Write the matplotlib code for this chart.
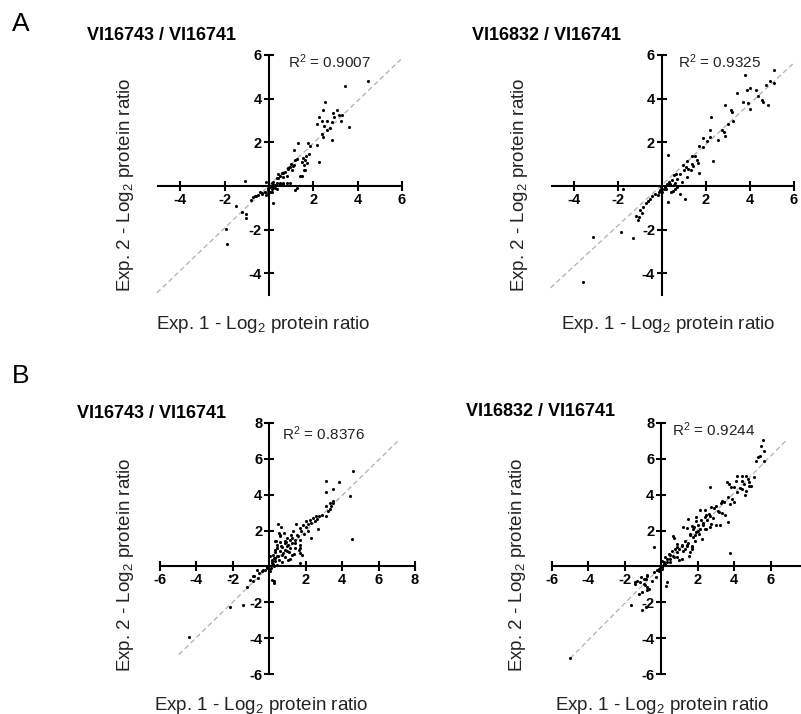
import numpy as np
import matplotlib
matplotlib.use("Agg")
import matplotlib.pyplot as plt

plt.rcParams['font.family'] = ['Liberation Sans', 'DejaVu Sans']
plt.rcParams['mathtext.fontset'] = 'custom'
plt.rcParams['mathtext.rm'] = 'Liberation Sans'
plt.rcParams['mathtext.it'] = 'Liberation Sans:italic'
plt.rcParams['mathtext.bf'] = 'Liberation Sans:bold'

W, H = 801, 714

# --- data ---
titles = ["VI16743 / VI16741", "VI16832 / VI16741", "VI16743 / VI16741", "VI16832 / VI16741"]
r2_values = ["0.9007", "0.9325", "0.8376", "0.9244"]
# regression lines: slope, intercept, x start, x end
fit_lines = [(0.973, 0.01, -5.05, 5.95), (0.932, 0.05, -5.07, 5.94),
             (0.99, 0.0, -4.96, 7.04), (1.025, 0.0, -5.0, 6.88)]

a1_points = [
    (4.48, 4.83), (3.42, 4.58), (2.52, 3.85), (2.45, 3.47), (3.08, 3.48), (2.89, 3.36), (2.24, 3.17),
    (3.15, 3.26), (3.30, 3.26), (2.92, 3.14), (2.39, 2.98), (2.62, 2.98), (3.23, 2.98), (2.85, 2.94),
    (2.17, 2.86), (2.5, 2.76), (2.77, 2.65), (3.61, 2.71), (2.62, 2.56), (2.39, 2.38), (2.44, 2.23),
    (2.85, 2.1), (1.76, 1.95), (1.33, 1.95), (1.86, 1.85), (1.11, 1.65), (2.17, 1.89), (1.79, 1.47),
    (1.68, 1.39), (1.53, 1.29), (1.26, 1.24), (1.18, 1.17), (1.64, 1.17), (1.48, 1.09), (2.24, 1.09),
    (0.98, 1.02), (1.08, 0.89), (0.88, 0.79), (1.56, 0.94), (1.64, 0.74), (0.73, 0.64), (1.03, 0.71),
    (0.42, 0.56), (0.58, 0.59), (1.41, 0.45), (0.80, 0.44), (0.65, 0.41), (0.35, 0.38), (-0.14, 0.18),
    (-1.09, 0.21), (0.5, 0.11), (0.65, 0.08), (0.27, 0.03), (0.2, -0.05), (0.12, -0.12), (0.35, -0.12),
    (1.26, -0.09), (1.18, -0.17), (-0.03, -0.2), (0.05, -0.27), (-0.18, -0.27), (-0.41, -0.27),
    (-0.29, -0.38), (-0.11, -0.42), (-0.56, -0.47), (-0.71, -0.5), (0.17, -0.8), (-1.47, -0.91),
    (-1.2, -1.18), (-1.02, -1.29), (-1.05, -1.48), (-1.95, -1.97), (-1.89, -2.67),
    (0.88, 0.8), (0.95, 0.88), (1.11, 0.95), (0.65, 0.58), (0.5, 0.45), (0.42, 0.35), (0.2, 0.2),
    (0.12, 0.12), (0.05, -0.03), (-0.03, -0.11), (0.2, 0.05), (0.35, 0.12), (0.5, 0.12), (0.65, 0.15),
    (0.27, -0.11), (0.12, -0.26), (-0.03, -0.33), (-0.18, -0.26), (-0.33, -0.33), (-0.48, -0.41),
    (-0.64, -0.48), (-0.79, -0.64), (0.8, 0.12), (0.95, 0.15), (1.48, 0.45), (1.56, 0.73), (1.71, 1.03),
]

a2_points = [
    (5.11, 5.29), (3.79, 5.08), (4.92, 4.83), (5.11, 4.73), (4.02, 4.5), (3.86, 4.38), (4.71, 4.62),
    (4.29, 4.38), (3.41, 4.24), (3.68, 3.86), (3.92, 3.82), (4.54, 3.92), (4.59, 3.86), (4.36, 4.12),
    (4.81, 3.71), (4.02, 3.52), (2.86, 3.71), (3.13, 3.48), (3.16, 3.41), (2.23, 3.17), (3.23, 2.98),
    (3.01, 2.83), (2.18, 2.58), (2.74, 2.56), (2.81, 2.45), (2.86, 2.3), (2.56, 2.11), (2.18, 2.23),
    (1.88, 2.2), (2.03, 2.08), (1.7, 1.85), (1.85, 1.77), (0.26, 1.42), (1.35, 1.39), (1.5, 1.39),
    (1.13, 1.12), (1.58, 1.17), (1.35, 1.02), (1.43, 0.89), (1.65, 1.05), (1.2, 0.79), (0.98, 0.71),
    (2.3, 1.12), (1.7, 0.59), (0.83, 0.56), (0.53, 0.48), (1.13, 0.41), (0.68, 0.33), (0.45, 0.29),
    (0.3, 0.18), (0.6, 0.14), (0.23, 0.08), (0.38, 0.03), (0.15, -0.05), (0.08, -0.12), (-0.08, -0.2),
    (0.0, -0.27), (-0.15, -0.27), (0.5, -0.23), (0.8, -0.35), (1.05, -0.62), (0.29, -0.73),
    (-1.76, -0.15), (-0.3, -0.38), (-0.53, -0.58), (-0.75, -0.77), (-0.86, -0.95), (-0.98, -1.11),
    (-0.9, -1.26), (-1.05, -1.41), (-1.2, -1.38), (-1.08, -1.56), (-1.88, -2.09), (-1.32, -2.39),
    (-3.13, -2.36), (-3.61, -4.39),
    (0.35, 0.1), (0.55, 0.05), (0.7, -0.05), (0.9, 0.2), (0.6, -0.15), (0.42, -0.3), (0.2, -0.15),
    (-0.05, -0.05), (0.65, 0.55), (0.95, 0.95), (1.1, 0.85), (-0.2, -0.4), (-0.45, -0.45),
    (-0.65, -0.7), (1.3, 0.75),
]

b1_points = [
    (4.62, 5.34), (3.13, 4.79), (3.82, 4.71), (3.49, 4.34), (3.13, 4.17), (4.44, 3.95), (3.49, 3.63),
    (3.31, 3.54), (3.4, 3.35), (3.09, 3.35), (3.22, 3.07), (3.09, 2.79), (2.58, 2.83), (2.4, 2.7),
    (2.22, 2.61), (2.04, 2.51), (2.31, 2.42), (2.67, 2.09), (1.85, 2.33), (1.67, 2.14), (2.31, 1.58),
    (4.55, 1.55), (1.49, 2.38), (0.49, 2.38), (0.62, 2.2), (0.58, 1.73), (1.31, 1.96), (1.58, 1.68),
    (1.4, 1.49), (1.22, 1.3), (1.04, 1.21), (0.85, 1.3), (0.67, 1.12), (0.4, 1.02), (0.31, 1.4),
    (0.95, 0.84), (0.76, 0.74), (1.22, 0.65), (1.67, 0.74), (1.67, 1.02), (0.49, 0.56), (1.04, 0.37),
    (0.31, 0.47), (0.13, 0.28), (0.22, 0.15), (-0.05, 0.0), (-0.15, -0.09), (-0.33, -0.19),
    (0.04, -0.24), (-0.69, -0.19), (-0.91, -0.52), (-1.05, -0.74), (-0.87, -0.84), (-1.24, -1.12),
    (-0.6, -0.65), (0.13, -0.74), (0.27, -0.93), (-1.45, -2.16), (-2.18, -2.29), (-4.42, -3.91),
    (-2.15, -0.56),
    (0.51, 1.86), (0.6, 1.68), (0.38, 1.4), (0.6, 1.34), (0.88, 1.4), (1.15, 1.45), (1.43, 1.3),
    (1.67, 1.21), (0.97, 1.15), (0.7, 1.08), (0.42, 1.02), (1.15, 1.02), (1.43, 1.02), (0.88, 0.89),
    (0.57, 0.84), (0.33, 0.78), (1.06, 0.78), (1.34, 0.71), (0.7, 0.65), (0.42, 0.6), (0.24, 0.47),
    (0.88, 0.52), (0.51, 0.37), (1.15, 0.41), (0.33, 0.28), (0.15, 0.19), (0.7, 0.22), (0.42, 0.09),
    (0.24, 0.0), (0.09, -0.09), (-0.04, -0.15), (-0.13, -0.04), (-0.22, -0.19), (-0.4, -0.28),
    (-0.59, -0.34), (-0.86, -0.56), (0.24, -0.84), (1.7, 0.19), (1.8, 0.65), (1.61, 0.93),
    (1.25, 1.58), (1.52, 1.77), (1.7, 1.49), (0.15, 0.37), (0.05, 0.56),
    (2.0, 2.2), (2.5, 2.55), (2.75, 2.8), (2.9, 2.85), (1.9, 1.8), (2.15, 2.35), (2.6, 2.65),
    (3.35, 3.2), (3.5, 3.55), (1.75, 1.95), (2.1, 2.0), (1.2, 1.75), (1.0, 1.6), (0.8, 1.85),
    (0.45, 1.2), (0.3, 0.9), (0.2, 0.65), (0.9, 1.35),
]

b2_points = [
    (5.59, 7.06), (5.48, 6.69), (5.64, 6.46), (5.44, 6.18), (5.32, 6.13), (5.21, 5.9), (5.62, 5.9),
    (4.18, 5.07), (4.41, 5.07), (4.67, 5.07), (5.08, 5.01), (4.77, 4.88), (4.45, 4.75), (4.09, 4.75),
    (4.54, 4.6), (4.81, 4.51), (4.95, 4.51), (3.73, 4.6), (3.59, 4.73), (3.82, 4.41), (4.0, 4.41),
    (4.45, 4.32), (4.63, 4.23), (4.18, 4.13), (4.59, 4.0), (2.65, 4.41), (3.69, 3.89), (3.87, 3.76),
    (4.0, 3.58), (3.78, 3.48), (3.33, 3.67), (3.28, 3.52), (2.74, 3.33), (2.92, 3.26), (2.38, 3.15),
    (2.14, 3.15), (3.19, 3.02), (3.33, 2.96), (3.51, 2.89), (2.65, 2.83), (2.47, 2.89), (2.38, 2.74),
    (1.93, 2.74), (2.2, 2.59), (1.93, 2.55), (1.48, 2.64), (2.02, 2.33), (2.29, 2.33), (2.74, 2.36),
    (3.01, 2.33), (3.23, 2.33), (3.69, 2.46), (1.66, 2.27), (1.17, 2.22), (1.39, 2.14), (1.75, 2.09),
    (2.11, 2.09), (2.47, 2.09), (1.93, 1.9), (1.57, 1.81), (1.75, 1.62), (1.3, 1.43), (1.48, 1.28),
    (1.66, 1.15), (1.39, 1.15), (1.12, 1.15), (0.85, 1.25), (0.67, 1.68), (0.85, 1.06), (1.21, 0.88),
    (1.66, 0.97), (0.58, 0.88), (0.4, 0.69), (0.67, 0.6), (0.85, 0.5), (1.12, 0.41), (0.49, 0.41),
    (0.22, 0.5), (0.04, 0.32), (0.13, 0.13), (0.31, 0.22), (-0.05, -0.06), (0.04, -0.15),
    (-0.14, -0.24), (0.31, -0.89), (0.27, -1.08), (-0.38, 1.1), (-0.27, -0.61), (-0.5, -0.8),
    (-0.77, -0.52), (-0.86, -0.71), (-0.95, -0.99), (-1.14, -0.61), (-1.32, -0.84), (-0.81, -1.14),
    (-0.77, -1.32), (-1.21, -1.51), (-1.46, -0.89), (-1.64, -2.14), (-1.05, -2.42), (-0.86, -2.29),
    (-5.0, -5.12), (3.78, 0.73),
    (0.68, 1.58), (1.13, 1.21), (1.41, 1.17), (1.68, 1.08), (1.32, 0.95), (0.86, 0.8), (0.49, 0.61),
    (0.68, 0.52), (0.31, 0.43), (0.13, 0.24), (0.22, 0.15), (0.04, -0.04), (0.49, 0.24), (0.95, 0.34),
    (1.5, 0.58), (1.59, 0.8), (2.23, 1.55), (1.86, 1.4), (2.05, 1.82), (2.41, 2.07), (2.68, 2.2),
    (1.77, 2.2), (-0.79, -0.5), (-0.97, -0.69), (-1.15, -0.88), (-0.88, -1.06), (-1.42, -0.97),
    (-0.69, -1.25), (-1.06, -1.43), (-0.42, -0.32), (-0.24, -0.22), (-0.15, -0.13),
    (2.5, 2.6), (2.85, 2.7), (3.1, 3.1), (3.45, 3.6), (2.3, 2.45), (1.6, 1.75), (2.0, 2.0),
    (2.6, 2.95), (3.0, 3.35), (4.3, 4.4), (4.8, 4.7), (1.0, 0.95), (0.75, 0.95), (1.85, 1.75),
]

ticks_a = [-4, -2, 2, 4, 6]
ticks_b = [-6, -4, -2, 2, 4, 6, 8]
ticks_b_x_right = [-6, -4, -2, 2, 4, 6]   # last panel is cut at the right edge


def fig_xy(px, py):
    return px / W, 1 - py / H


def make_axes(fig, px_left, px_right, py_top, py_bottom):
    l, b = fig_xy(px_left, py_bottom)
    return fig.add_axes([l, b, (px_right - px_left) / W, (py_bottom - py_top) / H])


def draw_panel(ax, points, lims, xticks, yticks, line):
    xs = [p[0] for p in points]
    ys = [p[1] for p in points]
    slope, icpt, x0, x1 = line
    lx = np.array([x0, x1])
    ax.plot(lx, slope * lx + icpt, color='#b0b0b0', lw=0.9, dashes=(4, 2.5), zorder=1, clip_on=False)
    ax.scatter(xs, ys, s=5, color='black', linewidths=0, zorder=3)

    ax.set_xlim(lims[0], lims[1])
    ax.set_ylim(lims[0], lims[1])
    for side in ['top', 'right']:
        ax.spines[side].set_visible(False)
    for side in ['left', 'bottom']:
        ax.spines[side].set_position(('data', 0))
        ax.spines[side].set_linewidth(1.5)
    ax.set_xticks(xticks)
    ax.set_yticks(yticks)
    ax.set_xticklabels([str(t) for t in xticks], fontweight='bold', fontsize=10.5)
    ax.set_yticklabels([str(t) for t in yticks], fontweight='bold', fontsize=10.5)
    ax.tick_params(direction='inout', length=7, width=1.5, pad=1.5)
    ax.patch.set_visible(False)


def main():
    fig = plt.figure(figsize=(W / 100, H / 100), dpi=100)

    ax1 = make_axes(fig, 158, 402, 55, 295)
    ax2 = make_axes(fig, 552, 794, 55, 295)
    ax3 = make_axes(fig, 160, 415, 423, 674)
    ax4 = make_axes(fig, 552, 807, 423, 674)

    draw_panel(ax1, a1_points, (-5, 6), ticks_a, ticks_a, fit_lines[0])
    draw_panel(ax2, a2_points, (-5, 6), ticks_a, ticks_a, fit_lines[1])
    draw_panel(ax3, b1_points, (-6, 8), ticks_b, ticks_b, fit_lines[2])
    draw_panel(ax4, b2_points, (-6, 8), ticks_b_x_right, ticks_b, fit_lines[3])

    # panel letters
    fig.text(*fig_xy(12, 24), "A", fontsize=19, va='center', ha='left')
    fig.text(*fig_xy(12, 376), "B", fontsize=19, va='center', ha='left')

    # titles
    title_pos = [(87, 35), (472, 35), (77, 413), (466, 412)]
    for (px, py), t in zip(title_pos, titles):
        fig.text(*fig_xy(px, py), t, fontsize=13, fontweight='bold', va='center', ha='left')

    # R^2 annotations
    r2_pos = [(288, 62), (678, 62), (282, 434), (672, 430)]
    for (px, py), r in zip(r2_pos, r2_values):
        fig.text(*fig_xy(px, py), "R$^2$ = " + r, fontsize=11, va='center', ha='left', color='#222222')

    ylab = "Exp. 2 - Log$_2$ protein ratio"
    xlab = "Exp. 1 - Log$_2$ protein ratio"
    for px, py in [(125, 185), (519, 185), (125, 565), (517, 565)]:
        fig.text(*fig_xy(px, py), ylab, fontsize=13.5, rotation=90, va='center', ha='center', color='#222222')
    for px, py in [(263, 325), (668, 325), (261, 705), (662, 705)]:
        fig.text(*fig_xy(px, py), xlab, fontsize=13.5, va='center', ha='center', color='#222222')

    fig.savefig("out.png", dpi=100)


if __name__ == "__main__":
    main()
